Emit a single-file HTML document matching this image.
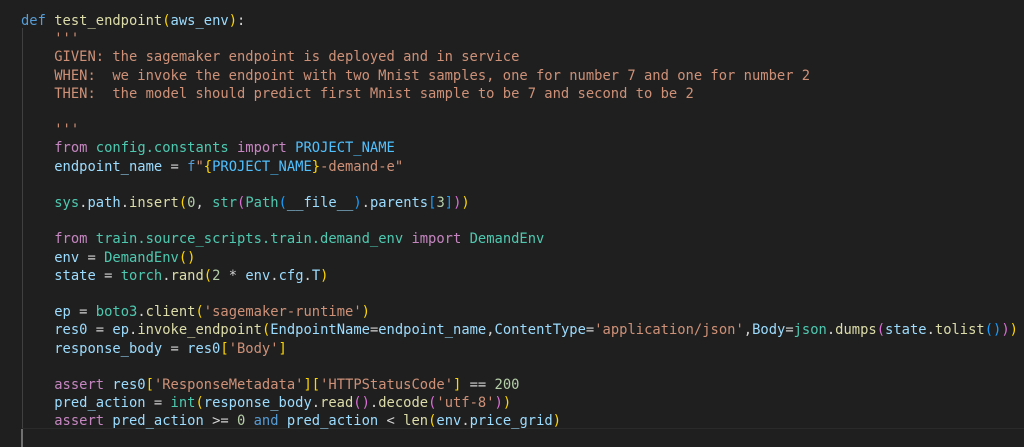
<!DOCTYPE html>
<html><head><meta charset="utf-8"><style>
html,body{margin:0;padding:0;background:#1f1f1f;width:1024px;height:447px;overflow:hidden}
pre{position:absolute;left:21px;top:12px;margin:0;font-family:"DejaVu Sans Mono","Liberation Mono",monospace;font-size:13.8px;line-height:18.2px;color:#d4d4d4}
.k{color:#569cd6}.f{color:#dcdcaa}.p{color:#9cdcfe}.s{color:#ce9178}.c{color:#c586c0}.t{color:#4ec9b0}.n{color:#b5cea8}
.y{color:#ffd700}.m{color:#da70d6}.b{color:#179fff}.co{color:#4fc1ff}
#g{position:absolute;left:22px;top:28px;width:1px;height:419px;background:#404040}
#h{position:absolute;left:22px;top:428px;width:1002px;height:1px;background:#2a2a2a}
#cur{position:absolute;left:21px;top:429px;width:2px;height:18px;background:#707070}
</style></head><body>
<div id="g"></div><div id="h"></div><div id="cur"></div>
<pre><span class="k">def</span> <span class="f">test_endpoint</span><span class="y">(</span><span class="p">aws_env</span><span class="y">)</span>:
    <span class="s">'''</span>
<span class="s">    GIVEN: the sagemaker endpoint is deployed and in service</span>
<span class="s">    WHEN:  we invoke the endpoint with two Mnist samples, one for number 7 and one for number 2</span>
<span class="s">    THEN:  the model should predict first Mnist sample to be 7 and second to be 2</span>

<span class="s">    '''</span>
    <span class="c">from</span> <span class="t">config.constants</span> <span class="c">import</span> <span class="co">PROJECT_NAME</span>
    <span class="p">endpoint_name</span> = <span class="k">f</span><span class="s">"</span><span class="y">{</span><span class="co">PROJECT_NAME</span><span class="y">}</span><span class="s">-demand-e"</span>

    <span class="t">sys</span>.<span class="p">path</span>.<span class="f">insert</span><span class="y">(</span><span class="n">0</span>, <span class="t">str</span><span class="m">(</span><span class="t">Path</span><span class="b">(</span><span class="p">__file__</span><span class="b">)</span>.<span class="p">parents</span><span class="b">[</span><span class="n">3</span><span class="b">]</span><span class="m">)</span><span class="y">)</span>

    <span class="c">from</span> <span class="t">train.source_scripts.train.demand_env</span> <span class="c">import</span> <span class="t">DemandEnv</span>
    <span class="p">env</span> = <span class="t">DemandEnv</span><span class="y">()</span>
    <span class="p">state</span> = <span class="t">torch</span>.<span class="f">rand</span><span class="y">(</span><span class="n">2</span> * <span class="p">env</span>.<span class="p">cfg</span>.<span class="p">T</span><span class="y">)</span>

    <span class="p">ep</span> = <span class="t">boto3</span>.<span class="f">client</span><span class="y">(</span><span class="s">'sagemaker-runtime'</span><span class="y">)</span>
    <span class="p">res0</span> = <span class="p">ep</span>.<span class="f">invoke_endpoint</span><span class="y">(</span><span class="p">EndpointName</span>=<span class="p">endpoint_name</span>,<span class="p">ContentType</span>=<span class="s">'application/json'</span>,<span class="p">Body</span>=<span class="t">json</span>.<span class="f">dumps</span><span class="m">(</span><span class="p">state</span>.<span class="f">tolist</span><span class="b">()</span><span class="m">)</span><span class="y">)</span>
    <span class="p">response_body</span> = <span class="p">res0</span><span class="y">[</span><span class="s">'Body'</span><span class="y">]</span>

    <span class="c">assert</span> <span class="p">res0</span><span class="y">[</span><span class="s">'ResponseMetadata'</span><span class="y">][</span><span class="s">'HTTPStatusCode'</span><span class="y">]</span> == <span class="n">200</span>
    <span class="p">pred_action</span> = <span class="t">int</span><span class="y">(</span><span class="p">response_body</span>.<span class="f">read</span><span class="m">()</span>.<span class="f">decode</span><span class="m">(</span><span class="s">'utf-8'</span><span class="m">)</span><span class="y">)</span>
    <span class="c">assert</span> <span class="p">pred_action</span> &gt;= <span class="n">0</span> <span class="k">and</span> <span class="p">pred_action</span> &lt; <span class="f">len</span><span class="y">(</span><span class="p">env</span>.<span class="p">price_grid</span><span class="y">)</span>
</pre>
</body></html>
